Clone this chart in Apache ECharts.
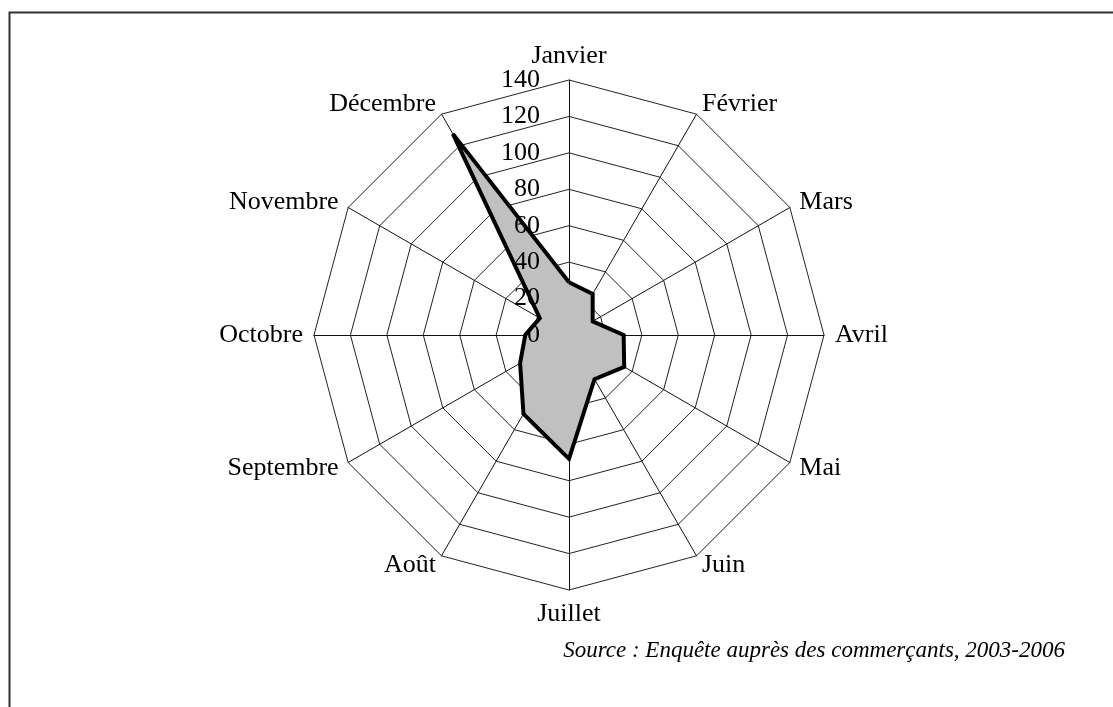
<!DOCTYPE html>
<html>
<head>
<meta charset="utf-8">
<script src="https://cdn.jsdelivr.net/npm/echarts@6/dist/echarts.min.js"></script>
<style>
  html, body { margin: 0; padding: 0; background: #fff; }
  #chart { width: 1113px; height: 707px; }
</style>
</head>
<body>
<div id="chart"></div>
<script>
// months, clockwise from the top
const months = ['Janvier', 'Février', 'Mars', 'Avril', 'Mai', 'Juin',
  'Juillet', 'Août', 'Septembre', 'Octobre', 'Novembre', 'Décembre'];
const values = [29, 26, 15, 30, 35, 28, 68, 50, 31, 24, 18.5, 127.5];
const axisMax = 140;
const axisStep = 20;
const sourceText = 'Source : Enquête auprès des commerçants, 2003-2006';

const serif = '"Liberation Serif", "DejaVu Serif", serif';
const center = [569, 335];
const radius = 255;

// echarts lays radar indicators out counter-clockwise, so keep the first
// month at the top and reverse the rest
const clockwise = arr => [arr[0]].concat(arr.slice(1).reverse());

const chart = echarts.init(document.getElementById('chart'));

chart.setOption({
  animation: false,
  backgroundColor: '#fff',
  title: {
    text: sourceText,
    right: 43,
    top: 634,
    textStyle: {
      fontFamily: serif,
      fontStyle: 'italic',
      fontWeight: 'normal',
      fontSize: 23,
      color: '#000'
    }
  },
  radar: {
    center: center,
    radius: radius,
    startAngle: 90,
    splitNumber: axisMax / axisStep,
    shape: 'polygon',
    indicator: clockwise(months).map(m => ({ name: m, min: 0, max: axisMax })),
    axisName: {
      color: '#000',
      fontFamily: serif,
      fontSize: 26
    },
    nameGap: 11,
    axisLine: { lineStyle: { color: '#111', width: 1 } },
    splitLine: { lineStyle: { color: '#222', width: 1 } },
    splitArea: { show: false }
  },
  // only used to print the 0..140 scale along the Janvier spoke
  polar: { center: center, radius: radius },
  angleAxis: { type: 'value', min: 0, max: 360, startAngle: 90, show: false },
  radiusAxis: {
    type: 'value',
    z: 10,
    min: 0,
    max: axisMax,
    interval: axisStep,
    axisLine: { show: false },
    axisTick: { show: false },
    splitLine: { show: false },
    axisLabel: {
      margin: 29,
      showMinLabel: true,
      showMaxLabel: true,
      color: '#000',
      fontFamily: serif,
      fontSize: 26
    }
  },
  graphic: [
    {
      type: 'polyline',
      shape: { points: [[9.5, 707], [9.5, 12.5], [1113, 12.5]] },
      style: { stroke: '#333', lineWidth: 2, fill: null },
      silent: true
    }
  ],
  series: [
    {
      // grey fill
      type: 'radar',
      z: 2,
      symbol: 'none',
      lineStyle: { width: 0 },
      areaStyle: { color: '#c0c0c0', opacity: 1 },
      data: [{ value: clockwise(values), name: 'Commerçants' }]
    },
    {
      // thick outline on top of the fill
      type: 'radar',
      z: 3,
      symbol: 'none',
      lineStyle: { color: '#000', width: 4, join: 'miter', miterLimit: 2 },
      data: [{ value: clockwise(values), name: 'Commerçants' }]
    }
  ]
});
</script>
</body>
</html>
